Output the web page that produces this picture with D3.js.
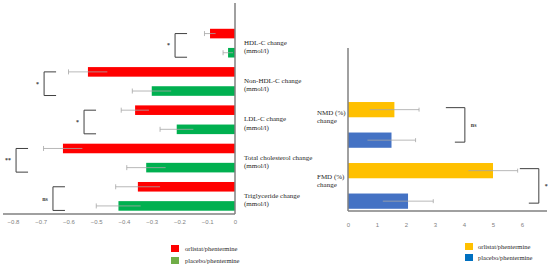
<!DOCTYPE html>
<html>
<head>
<meta charset="utf-8">
<script src="https://cdn.jsdelivr.net/npm/d3@7"></script>
<style>
  body { margin: 0; background: #fff; }
  text { font-family: "Liberation Serif", "DejaVu Serif", serif; }
</style>
</head>
<body>
<div id="chart"></div>
<script>
// lipid changes (mmol/l)
var lipidCats = ["HDL-C", "Non-HDL-C", "LDL-C", "Total cholesterol", "Triglyceride"];
var lipidLabels = [
  ["HDL-C change", "(mmol/l)"],
  ["Non-HDL-C change", "(mmol/l)"],
  ["LDL-C change", "(mmol/l)"],
  ["Total cholesterol change", "(mmol/l)"],
  ["Triglyceride change", "(mmol/l)"]
];
var lipidOrlistat = [-0.09, -0.53, -0.36, -0.62, -0.35];
var lipidOrlistatErr = [0.02, 0.07, 0.05, 0.07, 0.08];
var lipidPlacebo = [-0.025, -0.30, -0.21, -0.32, -0.42];
var lipidPlaceboErr = [0.018, 0.07, 0.06, 0.07, 0.08];
var lipidSig = ["*", "*", "*", "**", "ns"];
var lipidTicks = [-0.8, -0.7, -0.6, -0.5, -0.4, -0.3, -0.2, -0.1, 0];

// vascular changes (%)
var vascCats = ["NMD", "FMD"];
var vascLabels = [["NMD (%)", "change"], ["FMD (%)", "change"]];
var vascOrlistat = [1.6, 5.0];
var vascOrlistatErr = [0.85, 0.85];
var vascPlacebo = [1.5, 2.07];
var vascPlaceboErr = [0.83, 0.87];
var vascSig = ["ns", "*"];
var vascTicks = [0, 1, 2, 3, 4, 5, 6];

var groups = ["orlistat/phentermine", "placebo/phentermine"];

var W = 550, H = 268;
var AXIS_COLOR = "#808080";
var ERR_COLOR = "#a6a6a6";

var svg = d3.select("#chart").append("svg")
  .attr("width", W)
  .attr("height", H);

// bracket x positions (in data units) for the significance marks
var lipidBracketAt = [-0.216, -0.688, -0.544, -0.789, -0.656];
var vascBracketAt = [4.03, 6.58];

// ---------- left chart ----------
(function() {
  var x = d3.scaleLinear().domain([-0.8, 0]).range([13, 235]);
  var y = d3.scaleBand().domain(lipidCats).range([24, 215.5]);
  var sub = d3.scaleBand().domain(groups).range([0, y.bandwidth()])
    .paddingInner(0.5).paddingOuter(0.25);
  var colors = ["#ff0000", "#00b050"];

  var rows = lipidCats.map(function(c, i) {
    return [
      { cat: c, g: groups[0], v: lipidOrlistat[i], e: lipidOrlistatErr[i], col: colors[0] },
      { cat: c, g: groups[1], v: lipidPlacebo[i], e: lipidPlaceboErr[i], col: colors[1] }
    ];
  });
  var flat = [].concat.apply([], rows);

  var g = svg.append("g");

  g.selectAll("rect.bar").data(flat).enter().append("rect")
    .attr("class", "bar")
    .attr("x", function(d) { return x(d.v); })
    .attr("y", function(d) { return y(d.cat) + sub(d.g); })
    .attr("width", function(d) { return x(0) - x(d.v); })
    .attr("height", sub.bandwidth())
    .style("fill", function(d) { return d.col; });

  // error bars
  flat.forEach(function(d) {
    var cy = y(d.cat) + sub(d.g) + sub.bandwidth() / 2;
    g.append("line")
      .attr("x1", x(d.v - d.e)).attr("x2", x(d.v + d.e))
      .attr("y1", cy).attr("y2", cy)
      .style("stroke", ERR_COLOR).style("stroke-width", 0.8);
    g.append("line")
      .attr("x1", x(d.v - d.e)).attr("x2", x(d.v - d.e))
      .attr("y1", cy - 2.5).attr("y2", cy + 2.5)
      .style("stroke", ERR_COLOR).style("stroke-width", 0.8);
  });

  // axes
  g.append("line")
    .attr("x1", x(0)).attr("x2", x(0)).attr("y1", 3).attr("y2", 214)
    .style("stroke", AXIS_COLOR).style("stroke-width", 1.5);
  g.append("line")
    .attr("x1", 3).attr("x2", x(0)).attr("y1", 214).attr("y2", 214)
    .style("stroke", AXIS_COLOR).style("stroke-width", 1.5);

  var ax = g.append("g")
    .attr("transform", "translate(0,220)")
    .call(d3.axisBottom(x).tickValues(lipidTicks).tickSize(0).tickPadding(0)
      .tickFormat(function(d) { return d === 0 ? "0" : d3.format(".1f")(d); }));
  ax.select(".domain").remove();
  ax.selectAll("text")
    .attr("dy", "0.71em")
    .style("font-family", "'Liberation Sans', sans-serif")
    .style("font-size", "6px")
    .style("fill", "#7f7f7f");

  // category labels
  lipidCats.forEach(function(c, i) {
    var cy = y(c) + y.bandwidth() / 2;
    var t = g.append("text")
      .attr("x", 244)
      .attr("y", cy + 1.5)
      .style("font-size", "7px")
      .style("fill", "#262626");
    lipidLabels[i].forEach(function(line, k) {
      t.append("tspan").attr("x", 244).attr("dy", k === 0 ? 0 : 8.5).text(line);
    });
  });

  // significance brackets
  lipidCats.forEach(function(c, i) {
    var bx = x(lipidBracketAt[i]);
    var top = y(c) + sub(groups[0]) + sub.bandwidth() / 2;
    var bot = y(c) + sub(groups[1]) + sub.bandwidth() / 2 + 4.5;
    g.append("path")
      .attr("d", "M" + (bx + 12) + "," + top + "H" + bx + "V" + bot + "H" + (bx + 12))
      .style("fill", "none").style("stroke", "#404040").style("stroke-width", 1);
    g.append("text")
      .attr("x", bx - 5)
      .attr("y", (top + bot) / 2 + 2)
      .attr("text-anchor", "end")
      .style("font-size", "6px")
      .style("font-weight", "bold")
      .style("fill", "#404040")
      .text(lipidSig[i]);
  });

  // legend
  var leg = g.append("g");
  groups.forEach(function(name, i) {
    leg.append("rect")
      .attr("x", 171).attr("y", 245 + i * 12)
      .attr("width", 8).attr("height", 7)
      .style("fill", i === 0 ? "#ff0000" : "#70ad47");
    leg.append("text")
      .attr("x", 185).attr("y", 250.5 + i * 12)
      .style("font-size", "6.5px")
      .style("fill", "#262626")
      .text(name);
  });
})();

// ---------- right chart ----------
(function() {
  var x = d3.scaleLinear().domain([0, 6]).range([348, 522]);
  var y = d3.scaleBand().domain(vascCats).range([94.4, 216.4]);
  var sub = d3.scaleBand().domain(groups).range([0, y.bandwidth()])
    .paddingInner(0.5).paddingOuter(0.25);
  var colors = ["#ffc000", "#4472c4"];

  var flat = [];
  vascCats.forEach(function(c, i) {
    flat.push({ cat: c, g: groups[0], v: vascOrlistat[i], e: vascOrlistatErr[i], col: colors[0] });
    flat.push({ cat: c, g: groups[1], v: vascPlacebo[i], e: vascPlaceboErr[i], col: colors[1] });
  });

  var g = svg.append("g");

  g.selectAll("rect.bar").data(flat).enter().append("rect")
    .attr("class", "bar")
    .attr("x", x(0))
    .attr("y", function(d) { return y(d.cat) + sub(d.g); })
    .attr("width", function(d) { return x(d.v) - x(0); })
    .attr("height", sub.bandwidth())
    .style("fill", function(d) { return d.col; });

  flat.forEach(function(d) {
    var cy = y(d.cat) + sub(d.g) + sub.bandwidth() / 2;
    g.append("line")
      .attr("x1", x(d.v - d.e)).attr("x2", x(d.v + d.e))
      .attr("y1", cy).attr("y2", cy)
      .style("stroke", ERR_COLOR).style("stroke-width", 0.8);
    g.append("line")
      .attr("x1", x(d.v + d.e)).attr("x2", x(d.v + d.e))
      .attr("y1", cy - 2).attr("y2", cy + 2)
      .style("stroke", ERR_COLOR).style("stroke-width", 0.8);
  });

  g.append("line")
    .attr("x1", x(0)).attr("x2", x(0)).attr("y1", 48).attr("y2", 211)
    .style("stroke", AXIS_COLOR).style("stroke-width", 1.5);
  g.append("line")
    .attr("x1", x(0)).attr("x2", 547).attr("y1", 211).attr("y2", 211)
    .style("stroke", AXIS_COLOR).style("stroke-width", 1.5);

  var ax = g.append("g")
    .attr("transform", "translate(0,223)")
    .call(d3.axisBottom(x).tickValues(vascTicks).tickSize(0).tickPadding(0)
      .tickFormat(d3.format("d")));
  ax.select(".domain").remove();
  ax.selectAll("text")
    .attr("dy", "0.71em")
    .style("font-family", "'Liberation Sans', sans-serif")
    .style("font-size", "6px")
    .style("fill", "#7f7f7f");

  vascCats.forEach(function(c, i) {
    var cy = y(c) + y.bandwidth() / 2;
    var t = g.append("text")
      .attr("x", 317)
      .attr("y", cy - 7 - (i === 0 ? 3 : 0))
      .style("font-size", "7px")
      .style("fill", "#262626");
    vascLabels[i].forEach(function(line, k) {
      t.append("tspan").attr("x", 317).attr("dy", k === 0 ? 0 : 8.5).text(line);
    });
  });

  vascCats.forEach(function(c, i) {
    var bx = x(vascBracketAt[i]);
    var top = y(c) + sub(groups[0]) + sub.bandwidth() / 2 - 2;
    var bot = y(c) + sub(groups[1]) + sub.bandwidth() / 2 + 2;
    g.append("path")
      .attr("d", "M" + (bx - 19) + "," + top + "H" + bx + "V" + bot + "H" + (bx - 10))
      .style("fill", "none").style("stroke", "#404040").style("stroke-width", 1);
    g.append("text")
      .attr("x", bx + 6)
      .attr("y", (top + bot) / 2 + 2)
      .style("font-size", "6px")
      .style("font-weight", "bold")
      .style("fill", "#404040")
      .text(vascSig[i]);
  });

  var leg = g.append("g");
  groups.forEach(function(name, i) {
    leg.append("rect")
      .attr("x", 465).attr("y", 243 + i * 11)
      .attr("width", 8).attr("height", 7)
      .style("fill", i === 0 ? "#ffc000" : "#0070c0");
    leg.append("text")
      .attr("x", 478).attr("y", 248.5 + i * 11)
      .style("font-size", "6.5px")
      .style("fill", "#262626")
      .text(name);
  });
})();
</script>
</body>
</html>
